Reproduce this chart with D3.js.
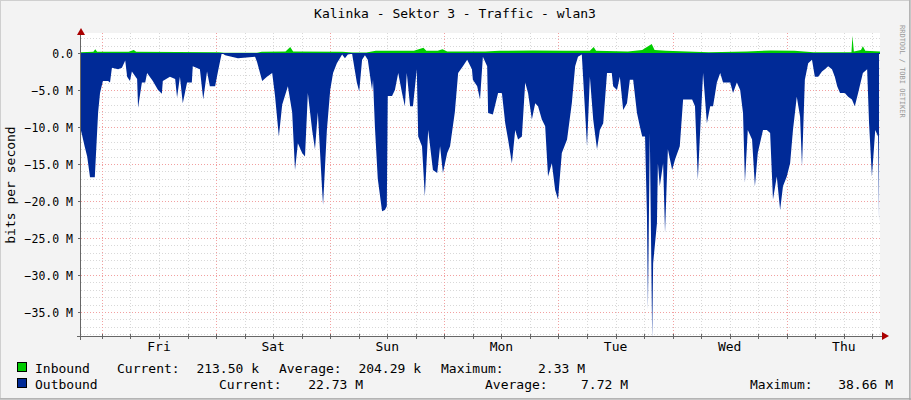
<!DOCTYPE html>
<html>
<head>
<meta charset="utf-8">
<script src="https://cdn.jsdelivr.net/npm/d3@7"></script>
<style>
  body { margin: 0; background: #f3f3f3; }
  text { font-family: "DejaVu Sans Mono", monospace; font-size: 13px; fill: #000; }
  text.tick { font-size: 11.5px; }
</style>
</head>
<body>
<svg id="chart" width="911" height="400"></svg>
<script>
// hours since window start (Thu ~19:36), value in Mbit/s
var outTimes = [0,0.2,0.8,1.3,1.9,2.9,3.6,4.0,4.6,5.7,6.1,6.5,7.8,8.6,9.3,9.7,10.3,10.7,11.8,12.0,12.8,13.5,13.9,15.1,16.2,17.0,17.2,18.7,19.8,20.2,20.8,21.4,22.3,23.3,23.5,25.0,25.7,26.5,27.1,28.2,28.8,29.6,30.3,33.0,36.6,37.0,38.1,39.1,40.2,40.8,41.6,42.3,43.5,44.4,45.0,45.6,46.5,47.1,47.7,48.6,49.2,49.8,50.7,50.9,51.7,52.4,53.0,53.8,54.9,55.5,56.1,57.0,58.0,58.5,59.1,59.7,60.3,61.2,61.4,61.8,62.4,63.3,63.9,64.3,64.5,65.4,66.0,66.7,67.5,68.1,68.5,69.2,69.8,70.6,70.9,71.7,72.3,73.0,74.0,74.9,75.5,76.1,77.0,77.6,78.6,79.3,80.3,81.2,82.2,82.4,83.3,83.9,84.5,85.4,85.6,86.6,87.7,88.5,89.2,89.8,90.6,91.3,91.9,92.7,93.4,94.0,94.8,95.5,96.1,96.9,97.6,98.2,99.0,99.7,100.3,101.1,102.2,103.2,103.9,104.5,105.3,106.4,107.0,107.7,108.5,109.1,109.8,110.6,111.6,111.9,112.7,113.3,114.0,114.8,115.4,116.1,116.9,117.5,118.0,118.6,119.0,119.2,119.6,120.1,120.3,121.1,121.3,121.7,122.4,122.8,123.4,124.3,124.9,125.9,126.6,127.4,128.5,129.1,129.7,130.1,130.8,131.6,132.3,132.9,133.7,134.4,135.0,135.8,136.5,137.1,137.9,138.6,139.2,139.6,140.2,141.1,141.7,142.3,143.4,144.2,144.9,145.5,146.3,147.0,147.6,148.4,149.1,149.7,150.5,151.2,151.6,152.2,152.9,153.7,154.3,155.0,155.8,156.4,157.1,157.9,158.5,159.0,159.6,160.6,161.3,162.1,162.7,163.4,164.4,165.3,165.7,166.3,167.0,167.6,167.8];
var outValues = [10.5,11,12.7,14,16.8,16.8,8,5.4,3.8,3.8,4,2,2.2,2,1,3.2,3.8,2.5,3.5,7.4,4,4,2.7,3.8,5,5.5,3.8,3.2,3.5,6,3.2,6.8,4,4,1.8,2.2,6.3,2.5,4.5,4.5,2.5,0,0.3,0.7,0.5,1.2,3.8,3.2,2.7,5.8,11.3,7,4.5,8,15.8,12.2,13.5,14,5.4,10.4,13,8,18.5,20.5,10.4,5,2.7,1.4,0.2,0.7,0.2,0.1,4,5.2,0.9,0.3,0.9,5,3.6,10,17,21.4,21.2,20.7,5.8,5.8,5,2.7,5.4,7.2,2.7,7.2,7.2,2.2,11.3,12.6,19.4,10.4,15.8,16.2,12.6,16.2,13.5,12.6,8,2.7,1.8,0.9,2.2,3.6,4.5,6.3,0.5,1.8,8.1,8.3,5.4,5.4,9.5,11.7,14.9,10.4,11.7,11.3,4,5.4,9,6.8,7.2,9,9.9,16.7,14.9,18.5,19.8,13.5,11.7,6.8,1.8,0.5,0.2,12.6,3.2,9,13,10.4,9.5,2.7,2.7,4.5,5,3.2,7.7,6.8,3.6,3.6,8.1,9.9,11.3,11.3,22,34.7,10.8,38.66,28.4,23,14.9,18,14.9,24.3,13,15.8,14.4,12.6,6.3,6.3,6.3,7.2,17.1,11.7,2.7,9.5,7.2,7.2,4,2.7,4,4,4,5.4,4,5,8.1,17.5,10.4,11.7,18,13.5,10.4,10.4,10.8,19.8,16.7,21.2,18,16.7,14.9,10.4,5.9,8.6,15.3,3.6,1.4,0.9,3.2,3.2,2.5,2.2,1.8,2.2,3.2,4.5,5.4,5.4,5.9,6.3,7.2,5.4,2.7,2.2,9.5,16.7,10.4,11.3,22.73];

var inTimes = [0,2.6,3.0,3.4,10,11.1,11.6,29,30,37,38,43,44,44.6,55,57,60,62,70,72.0,72.6,75.0,76.0,77,85,88,95,102,107,107.8,108.3,115,118,120,120.6,123,132,140,145,150,154,162.0,162.2,162.5,164,164.4,164.9,168];
var inValues = [0.1,0.15,0.5,0.15,0.15,0.4,0.15,0.1,0.02,0.02,0.15,0.2,0.8,0.2,0.15,0.05,0.05,0.3,0.3,0.7,0.3,0.3,0.5,0.2,0.2,0.3,0.35,0.3,0.3,0.8,0.3,0.2,0.4,1.2,0.4,0.3,0.1,0.2,0.35,0.3,0.1,0.1,2.33,0.2,0.4,0.9,0.3,0.2];

var dayLabels = ['Fri', 'Sat', 'Sun', 'Mon', 'Tue', 'Wed', 'Thu'];
var firstMidnight = 4.4;
var yTicks = [0, -5, -10, -15, -20, -25, -30, -35];

var svg = d3.select('#chart');
var L = 81, R = 880, T = 33, B = 336;

var x = d3.scaleLinear().domain([0, 168]).range([L, R]);
var y = d3.scaleLinear().domain([-38.24, 2.7]).range([B, T]);

// frame
svg.append('rect').attr('x', 0.5).attr('y', 0.5).attr('width', 909).attr('height', 398)
  .attr('fill', '#f3f3f3').attr('stroke', '#cfcfcf');
svg.append('line').attr('x1', 910).attr('x2', 910).attr('y1', 0).attr('y2', 400).attr('stroke', '#999');
svg.append('line').attr('x1', 0).attr('x2', 911).attr('y1', 399).attr('y2', 399).attr('stroke', '#999');
svg.append('rect').attr('x', L).attr('y', T).attr('width', R - L).attr('height', B - T).attr('fill', '#fff');

var g = svg.append('g');
// minor grid
d3.range(-38, 3, 1).forEach(function(v) {
  if (v % 5 === 0) return;
  g.append('line').attr('x1', L).attr('x2', R).attr('y1', Math.round(y(v)) + 0.5).attr('y2', Math.round(y(v)) + 0.5)
    .attr('stroke', '#d8d8d8').attr('stroke-dasharray', '1,2');
});
var hours6 = d3.range(firstMidnight - 24, 168, 6).filter(function(h) { return h >= 0; });
hours6.forEach(function(h) {
  var k = Math.round((h - firstMidnight) / 6);
  if (k % 4 === 0) return;
  g.append('line').attr('x1', Math.round(x(h)) + 0.5).attr('x2', Math.round(x(h)) + 0.5).attr('y1', T).attr('y2', B)
    .attr('stroke', '#d8d8d8').attr('stroke-dasharray', '1,2');
});
// major grid
yTicks.forEach(function(v) {
  g.append('line').attr('x1', L).attr('x2', R).attr('y1', Math.round(y(v)) + 0.5).attr('y2', Math.round(y(v)) + 0.5)
    .attr('stroke', '#f2a0a0').attr('stroke-dasharray', '1,2');
});
dayLabels.forEach(function(d, i) {
  var h = firstMidnight + 24 * i;
  g.append('line').attr('x1', Math.round(x(h)) + 0.5).attr('x2', Math.round(x(h)) + 0.5).attr('y1', T).attr('y2', B)
    .attr('stroke', '#f2a0a0').attr('stroke-dasharray', '1,2');
});

svg.append('clipPath').attr('id', 'clip').append('rect').attr('x', L).attr('y', T).attr('width', R - L).attr('height', B - T);

var outData = outTimes.map(function(t, i) { return [t, outValues[i]]; });
var inData = inTimes.map(function(t, i) { return [t, inValues[i]]; });

svg.append('path').datum(inData).attr('clip-path', 'url(#clip)')
  .attr('fill', '#00cc00')
  .attr('d', d3.area().x(function(d) { return x(d[0]); }).y0(y(0)).y1(function(d) { return y(d[1]); }));
svg.append('path').datum(outData).attr('clip-path', 'url(#clip)')
  .attr('fill', '#002a97')
  .attr('d', d3.area().x(function(d) { return x(d[0]); }).y0(y(0)).y1(function(d) { return y(-d[1]); }));
svg.append('line').attr('x1', L).attr('x2', R).attr('y1', Math.round(y(0)) + 0.5).attr('y2', Math.round(y(0)) + 0.5)
  .attr('stroke', '#002a97');

// axes
svg.append('line').attr('x1', L - 0.5).attr('x2', L - 0.5).attr('y1', 30).attr('y2', B + 4).attr('stroke', '#666');
svg.append('line').attr('x1', L - 4).attr('x2', 884).attr('y1', B + 0.5).attr('y2', B + 0.5).attr('stroke', '#666');
svg.append('path').attr('d', 'M77,35 L81,28 L85,35 Z').attr('fill', '#a00');
svg.append('path').attr('d', 'M882,332 L889,336 L882,340 Z').attr('fill', '#a00');

yTicks.forEach(function(v) {
  var yy = Math.round(y(v)) + 0.5;
  svg.append('line').attr('x1', L - 3).attr('x2', L).attr('y1', yy).attr('y2', yy).attr('stroke', '#666');
  svg.append('text').attr('class', 'tick').attr('x', 73).attr('y', yy + 4).attr('text-anchor', 'end')
    .text(v === 0 ? '0.0' : d3.format('.1f')(v) + ' M');
});
hours6.forEach(function(h) {
  svg.append('line').attr('x1', Math.round(x(h)) + 0.5).attr('x2', Math.round(x(h)) + 0.5)
    .attr('y1', B - 2).attr('y2', B + 3).attr('stroke', '#666');
});
dayLabels.forEach(function(d, i) {
  svg.append('text').attr('x', x(firstMidnight + 24 * i + 12)).attr('y', 351).attr('text-anchor', 'middle').text(d);
});

svg.append('text').attr('x', 455).attr('y', 18).attr('text-anchor', 'middle').text('Kalinka - Sektor 3 - Traffic - wlan3');
svg.append('text').attr('transform', 'translate(15,185) rotate(-90)').attr('text-anchor', 'middle').text('bits per second');
svg.append('text').attr('transform', 'translate(900,25) rotate(90)').attr('text-anchor', 'start')
  .style('font-size', '7px').style('fill', '#999').text('RRDTOOL / TOBI OETIKER');

// legend
function leg(row, color, name, parts) {
  var yy = row ? 389 : 373;
  svg.append('rect').attr('x', 17.5).attr('y', yy - 10.5).attr('width', 9).attr('height', 9)
    .attr('fill', color).attr('stroke', '#000');
  svg.append('text').attr('x', 35).attr('y', yy).text(name);
  parts.forEach(function(p) {
    svg.append('text').attr('x', p[0]).attr('y', yy).attr('text-anchor', p[2] || 'start').text(p[1]);
  });
}
leg(0, '#00cc00', 'Inbound', [[117, 'Current:'], [259, '213.50 k', 'end'], [279, 'Average:'], [421, '204.29 k', 'end'], [441, 'Maximum:'], [585, '2.33 M', 'end']]);
leg(1, '#002a97', 'Outbound', [[219, 'Current:'], [363, '22.73 M', 'end'], [485, 'Average:'], [628, '7.72 M', 'end'], [750, 'Maximum:'], [893, '38.66 M', 'end']]);
</script>
</body>
</html>
